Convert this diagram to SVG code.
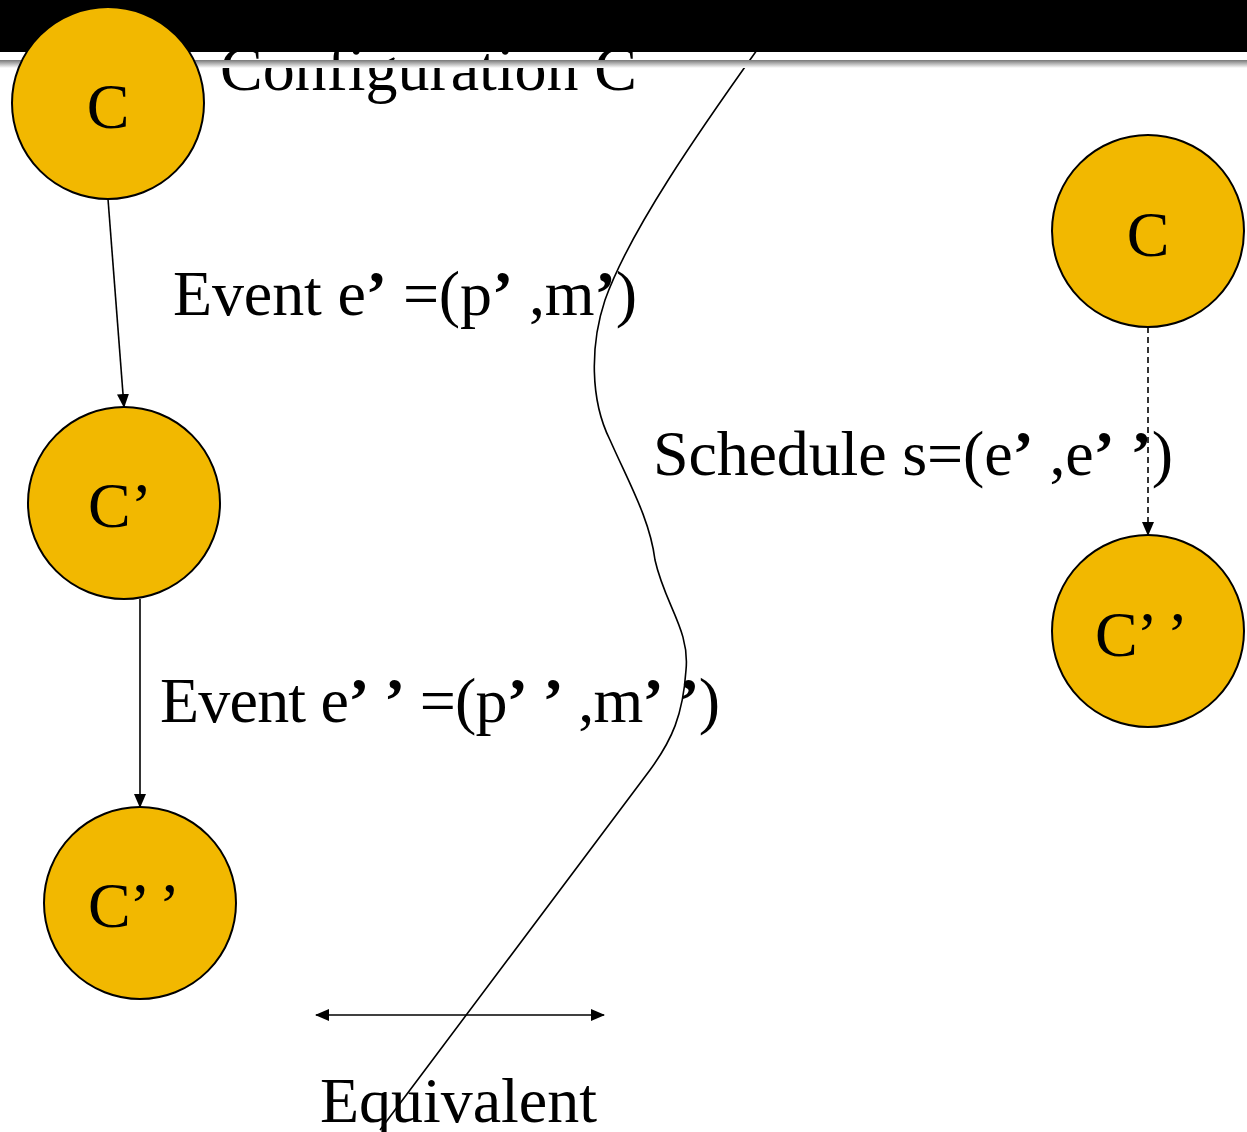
<svg xmlns="http://www.w3.org/2000/svg" width="1247" height="1132" viewBox="0 0 1247 1132">
<style>
.t{font-family:"Liberation Serif","Times New Roman",serif;font-size:64px;fill:#000}
.q{font-weight:bold}
.n{fill:#F2B800;stroke:#000;stroke-width:2}
.e{stroke:#000;stroke-width:1.6;fill:none}
</style>
<defs>
<marker id="ah" viewBox="0 0 14 12" refX="13" refY="6" markerWidth="14" markerHeight="12" markerUnits="userSpaceOnUse" orient="auto-start-reverse">
<path d="M0,0 L14,6 L0,12 z" fill="#000"/>
</marker>
<linearGradient id="g" x1="0" y1="0" x2="0" y2="1">
<stop offset="0" stop-color="#777"/>
<stop offset="1" stop-color="#fff"/>
</linearGradient>
</defs>
<rect width="1247" height="1132" fill="#fff"/>
<text class="t" x="220" y="90" textLength="417">Configuration C</text>
<g id="boundary">
<path class="e" d="M 757,50 C 700,130 630,230 605,300 C 590,345 590,400 610,440 C 630,485 650,520 655,560 C 665,605 690,630 686,670 C 683,715 672,740 650,770 L 380,1130"/>
</g>
<rect x="0" y="0" width="1247" height="52" fill="#000"/>
<rect x="0" y="60" width="1247" height="8" fill="url(#g)"/>
<g id="connectors">
<line class="e" x1="108" y1="199" x2="124" y2="407" marker-end="url(#ah)"/>
<line class="e" x1="140" y1="599" x2="140" y2="807" marker-end="url(#ah)"/>
<line class="e" x1="1148" y1="327" x2="1148" y2="535" stroke-dasharray="6,4" marker-end="url(#ah)"/>
<line class="e" x1="316" y1="1015" x2="604" y2="1015" marker-start="url(#ah)" marker-end="url(#ah)"/>
</g>
<g id="nodeC1"><circle class="n" cx="108" cy="103" r="96"/><text class="t" x="108" y="128" text-anchor="middle">C</text></g>
<g id="nodeC2"><circle class="n" cx="124" cy="503" r="96"/><text class="t" x="88" y="527">C’</text></g>
<g id="nodeC3"><circle class="n" cx="140" cy="903" r="96"/><text class="t" x="88" y="927" textLength="92">C’ ’</text></g>
<g id="nodeR1"><circle class="n" cx="1148" cy="231" r="96"/><text class="t" x="1148" y="256" text-anchor="middle">C</text></g>
<g id="nodeR2"><circle class="n" cx="1148" cy="631" r="96"/><text class="t" x="1095" y="656" textLength="93">C’ ’</text></g>
<g id="labels">
<text class="t" x="173" y="315" textLength="464">Event e<tspan class="q">’</tspan> =(p<tspan class="q">’</tspan> ,m<tspan class="q">’</tspan>)</text>
<text class="t" x="160" y="722" textLength="560">Event e<tspan class="q">’</tspan> <tspan class="q">’</tspan> =(p<tspan class="q">’</tspan> <tspan class="q">’</tspan> ,m<tspan class="q">’</tspan> <tspan class="q">’</tspan>)</text>
<text class="t" x="653" y="475" textLength="520">Schedule s=(e<tspan class="q">’</tspan> ,e<tspan class="q">’</tspan> <tspan class="q">’</tspan>)</text>
<text class="t" x="320" y="1122" textLength="277">Equivalent</text>
</g>
</svg>
